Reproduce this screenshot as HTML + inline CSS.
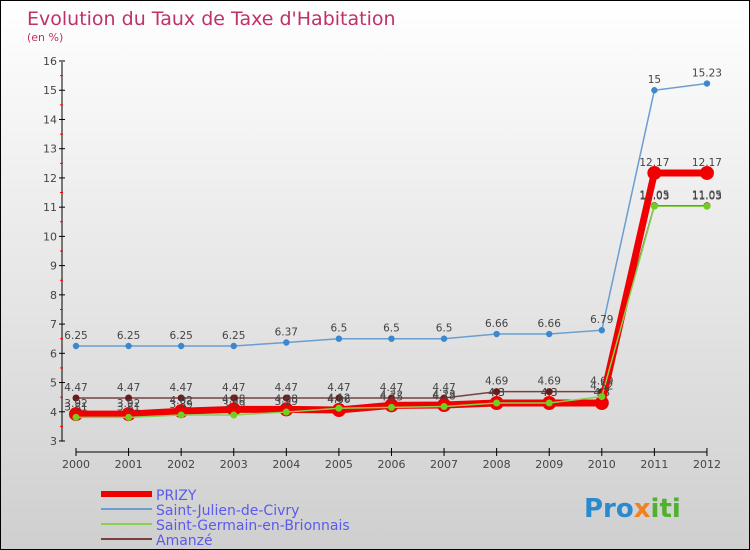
<!DOCTYPE html>
<html><head><meta charset="utf-8"><style>
body{margin:0}
#c{width:750px;height:550px;position:relative;overflow:hidden;font-family:"DejaVu Sans","Liberation Sans",sans-serif;background:linear-gradient(#ffffff,#cfcfcf);box-sizing:border-box;border:1px solid #000}
</style></head><body>
<div id="c">
<svg id="s" width="750" height="550" style="position:absolute;left:0;top:0">
<text x="26" y="24" font-size="19" fill="#c0306a">Evolution du Taux de Taxe d'Habitation</text>
<text x="26" y="40" font-size="11" fill="#c0306a">(en %)</text>
<text x="583" y="516" font-size="26" font-weight="bold" fill="#2a8ad0">Pro<tspan fill="#f08020">x</tspan><tspan fill="#50b030">iti</tspan></text>
</svg>
</div>
<script>
const years=[2000,2001,2002,2003,2004,2005,2006,2007,2008,2009,2010,2011,2012];
const yTicks=[3,4,5,6,7,8,9,10,11,12,13,14,15,16];
const julien=[6.25,6.25,6.25,6.25,6.37,6.5,6.5,6.5,6.66,6.66,6.79,15,15.23];
const germain=[3.81,3.81,3.89,3.89,3.99,4.12,4.15,4.18,4.3,4.3,4.52,11.03,11.03];
const amanze=[4.47,4.47,4.47,4.47,4.47,4.47,4.47,4.47,4.69,4.69,4.69,11.05,11.05];
const prizy=[3.92,3.92,4.02,4.08,4.08,4.06,4.22,4.23,4.3,4.3,4.3,12.17,12.17];
const NS='http://www.w3.org/2000/svg',s=document.getElementById('s');
const X=i=>75+i*52.58, Y=v=>440-(v-3)*29.23;
function el(t,a,p){const e=document.createElementNS(NS,t);for(const k in a)e.setAttribute(k,a[k]);(p||s).appendChild(e);return e;}
let ax=el('g',{});


el('line',{x1:61,y1:61,x2:61,y2:440,stroke:'#000'},ax);
el('line',{x1:75,y1:451,x2:706,y2:451,stroke:'#000'},ax);
yTicks.forEach(v=>{const y=Y(v);el('line',{x1:58,x2:64,y1:y,y2:y,stroke:'#000'},ax);
 if(v<16)el('line',{x1:59,x2:62,y1:y-14.6,y2:y-14.6,stroke:'#f00'},ax);
 const t=el('text',{x:56,y:y+4,'font-size':11,fill:'#444','text-anchor':'end'},ax);t.textContent=v;
 });
years.forEach((yr,i)=>{el('line',{x1:X(i),x2:X(i),y1:447,y2:455,stroke:'#000'},ax);
 const t=el('text',{x:X(i),y:467,'font-size':11,fill:'#444','text-anchor':'middle'},ax);t.textContent=yr;
 });
function series(d,color,w,r,fill,name){const g=el('g',{});
 
 el('polyline',{points:d.map((v,i)=>X(i)+','+Y(v)).join(' '),fill:'none',stroke:color,'stroke-width':w},g);
 d.forEach((v,i)=>{const c=el('circle',{cx:X(i),cy:Y(v),r:r,fill:fill},g);
  
  const t=el('text',{x:X(i),y:Y(v)-7,'font-size':10.5,fill:'#444','text-anchor':'middle'},g);t.textContent=v;
  });}
series(julien,'#6a9ed0',1.5,3.2,'#3a88d0','series-saint-julien');
series(amanze,'#7a4040',1.5,3.5,'#6a1a1a','series-amanze');
series(prizy,'#f00000',7,7,'#f00000','series-prizy');
series(germain,'#88d050',1.5,3.5,'#70d020','series-saint-germain');
const names=['PRIZY','Saint-Julien-de-Civry','Saint-Germain-en-Brionnais','Amanzé'];
const cols=['#f00000','#6a9ed0','#88d050','#7a4040'],ws=[6,2,2,2];
names.forEach((n,i)=>{const g=el('g',{});
 
 const y=493+i*15;el('line',{x1:100,x2:151,y1:y,y2:y,stroke:cols[i],'stroke-width':ws[i]},g);
 const t=el('text',{x:155,y:y+6,'font-size':14,fill:'#5a5aee'},g);t.textContent=n;});
</script>
</body></html>
